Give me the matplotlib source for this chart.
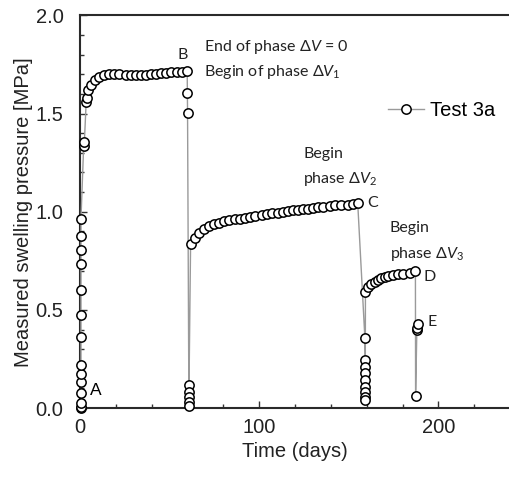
import matplotlib
matplotlib.use("Agg")
import matplotlib.pyplot as plt
from matplotlib.ticker import MultipleLocator

# Test 3a: measured swelling pressure vs time
days = [
    # phase dV = 0, initial rise (A)
    0.5, 0.5, 0.5, 0.5, 0.5, 0.5, 0.5, 0.5, 0.5, 0.5, 0.5, 0.5, 0.5, 0.5,
    2.0, 2.4, 3.4, 3.8, 4.6, 6.1, 8.3, 10.7, 13.5, 16.3, 19.1, 21.8, 25.6,
    28.3, 31.1, 33.9, 36.7, 39.4, 42.2, 45.0, 47.8, 50.6, 54.3, 57.0, 59.8,
    # drop at B
    59.9, 60.0, 60.7, 60.7, 60.7, 60.7, 60.7,
    # phase dV1
    61.7, 64.1, 66.3, 69.1, 71.8, 74.6, 77.4, 80.2, 83.0, 86.7, 89.4, 92.2,
    95.0, 97.8, 101.5, 104.3, 107.0, 110.7, 113.5, 116.3, 119.1, 121.8, 124.6,
    127.4, 130.2, 132.9, 135.7, 139.4, 142.2, 145.9, 149.6, 152.4, 155.0,
    # drop at C
    159.0, 159.2, 159.2, 159.2, 159.2, 159.2, 159.2, 159.2, 159.2,
    # phase dV2
    159.3, 160.7, 162.6, 164.4, 166.3, 168.2, 170.0, 171.8, 174.6, 177.4,
    180.2, 183.9, 187.2,
    # drop at D, then E
    187.3, 188.0, 188.2, 188.5,
]
pressure = [
    0.000, 0.005, 0.024, 0.078, 0.133, 0.176, 0.219, 0.363, 0.473, 0.600,
    0.736, 0.804, 0.877, 0.962,
    1.333, 1.355, 1.557, 1.580, 1.618, 1.644, 1.669, 1.686, 1.698, 1.703,
    1.703, 1.700, 1.695, 1.695, 1.695, 1.695, 1.698, 1.700, 1.703, 1.706,
    1.708, 1.710, 1.710, 1.712, 1.716,
    1.607, 1.505, 0.117, 0.083, 0.058, 0.032, 0.012,
    0.838, 0.864, 0.892, 0.914, 0.926, 0.936, 0.945, 0.952, 0.957, 0.962,
    0.965, 0.970, 0.975, 0.979, 0.984, 0.987, 0.991, 0.996, 1.001, 1.004,
    1.008, 1.011, 1.014, 1.016, 1.019, 1.023, 1.026, 1.030, 1.032, 1.033,
    1.035, 1.037, 1.042,
    0.355, 0.244, 0.210, 0.177, 0.142, 0.108, 0.083, 0.058, 0.041,
    0.592, 0.617, 0.634, 0.643, 0.651, 0.660, 0.668, 0.672, 0.677, 0.682,
    0.685, 0.690, 0.697,
    0.061, 0.397, 0.410, 0.430,
]

SERIES_LABEL = "Test 3a"
ARIAL = ["Liberation Sans", "DejaVu Sans"]
CALIBRI = ["Lato", "DejaVu Sans"]

plt.rcParams["font.family"] = ARIAL
plt.rcParams["mathtext.fontset"] = "custom"
plt.rcParams["mathtext.rm"] = "Lato"
plt.rcParams["mathtext.it"] = "Lato:italic"

fig = plt.figure(figsize=(5.1, 4.79), dpi=100)
ax = fig.add_axes([0.157, 0.148, 0.843, 0.820])

ax.plot(days, pressure, color="#9a9a9a", linewidth=1.0, marker="o",
        markersize=6.7, markerfacecolor="white", markeredgecolor="black",
        markeredgewidth=1.1, label=SERIES_LABEL, clip_on=False, zorder=3)

ax.set_xlim(0, 240)
ax.set_ylim(0, 2.0)
ax.xaxis.set_major_locator(MultipleLocator(100))
ax.xaxis.set_minor_locator(MultipleLocator(20))
ax.yaxis.set_major_locator(MultipleLocator(0.5))
ax.yaxis.set_minor_locator(MultipleLocator(0.1))
ax.yaxis.set_major_formatter(plt.FormatStrFormatter("%.1f"))
ax.tick_params(which="both", direction="in", colors="#333333", width=1.0)
ax.tick_params(which="major", length=5, labelsize=14.5, labelcolor="#222222")
ax.tick_params(which="minor", length=3)
ax.tick_params(axis="y", which="major", pad=12)
ax.tick_params(axis="x", which="major", pad=7)

for side in ("left", "top", "bottom"):
    ax.spines[side].set_color("#2a2a2a")
    ax.spines[side].set_linewidth(1.5)
ax.spines["right"].set_visible(False)

ax.set_xlabel("Time (days)", fontsize=14.5, color="#222222", labelpad=4)
ax.set_ylabel("Measured swelling pressure [MPa]", fontsize=14.5,
              color="#222222", labelpad=2)

# point labels and phase notes
ax.text(8.9, 0.09, "A", fontsize=12.5, ha="center", va="center", family=ARIAL)
notes = [
    (57.1, 1.796, "B", "center"),
    (69.1, 1.839, "End of phase Δ$V$ = 0", "left"),
    (69.1, 1.711, "Begin of phase Δ$V_1$", "left"),
    (124.6, 1.296, "Begin", "left"),
    (124.6, 1.169, "phase Δ$V_2$", "left"),
    (163.5, 1.042, "C", "center"),
    (172.8, 0.915, "Begin", "left"),
    (172.8, 0.785, "phase Δ$V_3$", "left"),
    (195.0, 0.668, "D", "center"),
    (196.5, 0.439, "E", "center"),
]
for x, y, s, ha in notes:
    ax.text(x, y, s, fontsize=11.5, ha=ha, va="center", family=CALIBRI,
            color="#222222")

ax.legend(loc="center left", bbox_to_anchor=(0.716, 0.758), frameon=False,
          fontsize=14.5, handlelength=1.8, handletextpad=0.3, borderpad=0,
          borderaxespad=0)

fig.savefig("out.png", dpi=100)
